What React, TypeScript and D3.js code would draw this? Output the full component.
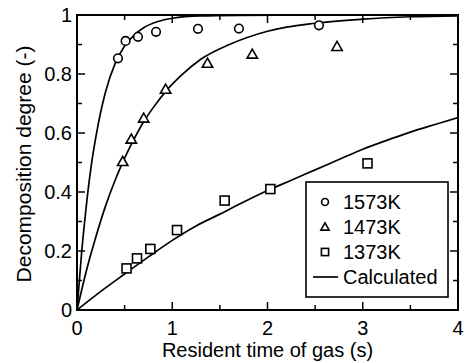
import React from 'react';
import * as d3 from 'd3';

// measured points (resident time s, decomposition degree)
const exp1573: [number, number][] = [
  [0.43, 0.853], [0.51, 0.912], [0.64, 0.926], [0.83, 0.943], [1.27, 0.953], [1.7, 0.954], [2.54, 0.965],
];
const exp1473: [number, number][] = [
  [0.48, 0.503], [0.57, 0.579], [0.7, 0.65], [0.93, 0.748], [1.37, 0.836], [1.84, 0.867], [2.73, 0.893],
];
const exp1373: [number, number][] = [
  [0.52, 0.141], [0.63, 0.175], [0.77, 0.207], [1.05, 0.271], [1.55, 0.371], [2.03, 0.41], [3.05, 0.497],
];

// calculated curves
const calc1573: [number, number][] = [
  [0, 0], [0.05, 0.2], [0.1, 0.36], [0.15, 0.49], [0.2, 0.59], [0.3, 0.74], [0.4, 0.835], [0.5, 0.895],
  [0.6, 0.932], [0.7, 0.957], [0.85, 0.978], [1.0, 0.989], [1.3, 0.997], [1.7, 0.999], [2.5, 1.0], [4, 1.0],
];
const calc1473: [number, number][] = [
  [0, 0], [0.1, 0.135], [0.2, 0.25], [0.3, 0.353], [0.4, 0.44], [0.5, 0.515], [0.6, 0.58], [0.7, 0.638],
  [0.8, 0.686], [0.95, 0.748], [1.1, 0.797], [1.3, 0.85], [1.6, 0.9], [2.0, 0.945], [2.5, 0.972],
  [3.0, 0.986], [3.5, 0.994], [4, 0.997],
];
const calc1373: [number, number][] = [
  [0, 0], [0.25, 0.063], [0.5, 0.122], [0.75, 0.18], [1.0, 0.236], [1.25, 0.285], [1.5, 0.325],
  [1.75, 0.366], [2.0, 0.405], [2.25, 0.44], [2.5, 0.475], [2.75, 0.51], [3.0, 0.545], [3.25, 0.575],
  [3.5, 0.603], [3.75, 0.628], [4.0, 0.652],
];

const xTicks = [0, 1, 2, 3, 4];
const xMinor = [0.5, 1.5, 2.5, 3.5];
const yTicks = [0, 0.2, 0.4, 0.6, 0.8, 1];
const yMinor = [0.1, 0.3, 0.5, 0.7, 0.9];
const legendLabels = ['1573K', '1473K', '1373K', 'Calculated'];

const W = 468;
const H = 363;
const left = 77, right = 458, top = 15, bottom = 310;
const font = 'Liberation Sans, Arial, sans-serif';

function Marker({ kind, x, y, s = 1 }: { kind: string; x: number; y: number; s?: number }) {
  if (kind === 'circle')
    return <circle cx={x} cy={y} r={4.3 * s} fill="white" stroke="black" strokeWidth={1.6} />;
  if (kind === 'triangle') {
    const a = 5.2 * s;
    return (
      <path d={`M${x},${y - a}L${x + a},${y + a * 0.75}L${x - a},${y + a * 0.75}Z`}
        fill="white" stroke="black" strokeWidth={1.6} strokeLinejoin="miter" />
    );
  }
  const h = 4.5 * s;
  return <rect x={x - h} y={y - h} width={2 * h} height={2 * h} fill="white" stroke="black" strokeWidth={1.6} />;
}

export default function App() {
  const x = d3.scaleLinear().domain([0, 4]).range([left, right]);
  const y = d3.scaleLinear().domain([0, 1]).range([bottom, top]);
  const line = d3.line<[number, number]>()
    .x(d => x(d[0]))
    .y(d => y(d[1]))
    .curve(d3.curveMonotoneX);

  const lgX = 306, lgY = 182, lgW = 142, lgH = 115;
  const rows = [202, 227, 252, 277];

  return (
    <svg width={W} height={H} style={{ position: 'absolute', left: 0, top: 0, background: 'white' }}
      fontFamily={font}>
      <defs>
        <clipPath id="plot">
          <rect x={left} y={top} width={right - left} height={bottom - top} />
        </clipPath>
      </defs>
      <g clipPath="url(#plot)" fill="none" stroke="black" strokeWidth={1.7}>
        {[calc1573, calc1473, calc1373].map((c, i) => <path key={i} d={line(c) ?? ''} />)}
      </g>
      {exp1573.map((d, i) => <Marker key={'c' + i} kind="circle" x={x(d[0])} y={y(d[1])} />)}
      {exp1473.map((d, i) => <Marker key={'t' + i} kind="triangle" x={x(d[0])} y={y(d[1])} />)}
      {exp1373.map((d, i) => <Marker key={'s' + i} kind="square" x={x(d[0])} y={y(d[1])} />)}

      {/* frame */}
      <rect x={left} y={top} width={right - left} height={bottom - top} fill="none" stroke="black" strokeWidth={2} />
      {/* ticks, inward on all four sides */}
      <g stroke="black" strokeWidth={1.5}>
        {xTicks.map(t => (
          <g key={'xt' + t}>
            <line x1={x(t)} x2={x(t)} y1={bottom} y2={bottom - 8} />
            <line x1={x(t)} x2={x(t)} y1={top} y2={top + 8} />
          </g>
        ))}
        {xMinor.map(t => (
          <g key={'xm' + t}>
            <line x1={x(t)} x2={x(t)} y1={bottom} y2={bottom - 5} />
            <line x1={x(t)} x2={x(t)} y1={top} y2={top + 5} />
          </g>
        ))}
        {yTicks.map(t => (
          <g key={'yt' + t}>
            <line x1={left} x2={left + 8} y1={y(t)} y2={y(t)} />
            <line x1={right} x2={right - 8} y1={y(t)} y2={y(t)} />
          </g>
        ))}
        {yMinor.map(t => (
          <g key={'ym' + t}>
            <line x1={left} x2={left + 5} y1={y(t)} y2={y(t)} />
            <line x1={right} x2={right - 5} y1={y(t)} y2={y(t)} />
          </g>
        ))}
      </g>
      <g fontSize={20} fill="black">
        {xTicks.map(t => (
          <text key={'xl' + t} x={x(t)} y={bottom + 25} textAnchor="middle">{t}</text>
        ))}
        {yTicks.map(t => (
          <text key={'yl' + t} x={left - 5} y={y(t) + 7} textAnchor="end">{t}</text>
        ))}
        <text x={(left + right) / 2} y={357} textAnchor="middle">Resident time of gas (s)</text>
        <text transform={`translate(31,164) rotate(-90)`} textAnchor="middle" fontSize={21}>
          Decomposition degree (-)
        </text>
      </g>

      {/* legend */}
      <rect x={lgX} y={lgY} width={lgW} height={lgH} fill="white" stroke="black" strokeWidth={1.6} />
      {legendLabels.map((l, i) => (
        <g key={l}>
          {i < 3 ? (
            <Marker kind={['circle', 'triangle', 'square'][i]} x={325} y={rows[i]} s={0.8} />
          ) : (
            <line x1={313} x2={338} y1={rows[i]} y2={rows[i]} stroke="black" strokeWidth={1.7} />
          )}
          <text x={343} y={rows[i] + 7} fontSize={20}>{l}</text>
        </g>
      ))}
    </svg>
  );
}
